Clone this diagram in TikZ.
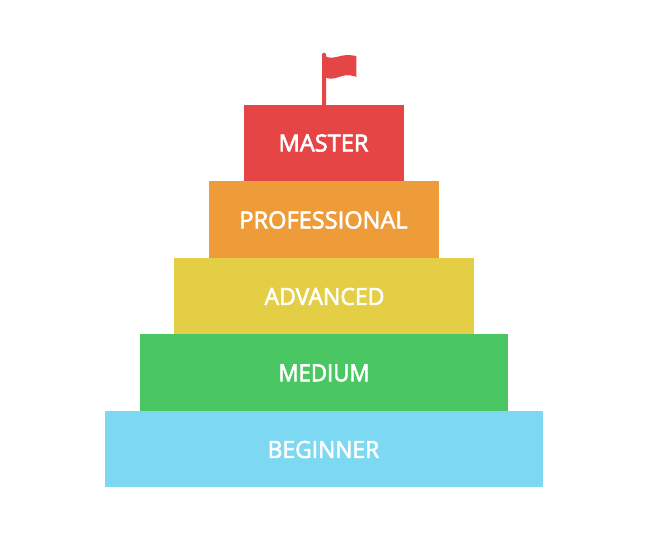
\documentclass[tikz,border=0pt]{standalone}
\usepackage{graphicx}
\usepackage{fontspec}
\newfontfamily\lblfont[RawFeature={embolden=2.6}]{Open Sans}
\definecolor{cM}{HTML}{E64546}
\definecolor{cP}{HTML}{EE9B39}
\definecolor{cA}{HTML}{E3CE45}
\definecolor{cD}{HTML}{4AC762}
\definecolor{cB}{HTML}{7CD9F1}
\tikzset{x=1pt,y=-1pt,
  lbl/.style={text=white,font=\lblfont\fontsize{23.6}{26}\selectfont,inner sep=0pt,anchor=center}}
\begin{document}
\begin{tikzpicture}
\useasboundingbox (0,0) rectangle (648,540);
\fill[white] (0,0) rectangle (648,540);
\fill[cB] (105,410.8) rectangle (543,487.3);
\fill[cD] (140,334.3) rectangle (508,410.8);
\fill[cA] (174.3,258) rectangle (473.5,334.3);
\fill[cP] (209.3,181) rectangle (438.5,258);
\fill[cM] (244,105) rectangle (404,181);
\node[lbl] (m) at (323.5,143) {MASTER};
\node[lbl] (p) at (323.5,220) {PROFESSIONAL};
\node[lbl] (a) at (324.5,296.5) {\scalebox{.975}[1]{ADVANCED}};
\node[lbl] (d) at (324,373) {\scalebox{.94}[1]{MEDIUM}};
\node[lbl] (b) at (323.5,449.5) {\scalebox{.965}[1]{BEGINNER}};
\fill[cM] (322,105) -- (322,54.5) .. controls (322,52.3) and (326,52.3) .. (326,54.5) -- (326,105) -- cycle;
\fill[cM] (326,56.5) .. controls (333,60) and (340,55) .. (347,55) .. controls (350,55) and (353,55.5) .. (356.3,56) -- (356.3,76.8) .. controls (352,75.5) and (349,75) .. (346,75.2) .. controls (339,76) and (333,81) .. (326,77.5) -- cycle;
\end{tikzpicture}
\end{document}
